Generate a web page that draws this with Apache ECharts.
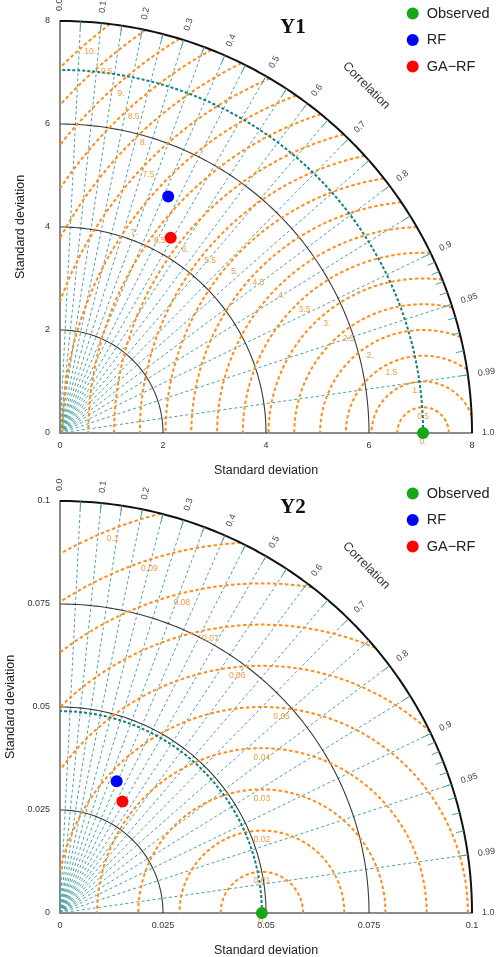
<!DOCTYPE html>
<html><head><meta charset="utf-8">
<script src="https://cdn.jsdelivr.net/npm/echarts@6/dist/echarts.min.js"></script>
<style>html,body{margin:0;padding:0;background:#fff}#c{width:499px;height:957px}</style>
</head><body><div id="c"></div>
<script>
const FONT = 'Liberation Sans, Arial, Helvetica, sans-serif';

const modelNames = ['Observed', 'RF', 'GA\u2212RF'];

const corrLabelValues = [0.0, 0.1, 0.2, 0.3, 0.4, 0.5, 0.6, 0.7, 0.8, 0.9, 0.95, 0.99, 1.0];
const corrLabelTexts = ['0.0', '0.1', '0.2', '0.3', '0.4', '0.5', '0.6', '0.7', '0.8', '0.9', '0.95', '0.99', '1.0'];
const corrRayValues = [0.05, 0.1, 0.15, 0.2, 0.25, 0.3, 0.35, 0.4, 0.45, 0.5, 0.55, 0.6, 0.65, 0.7, 0.75, 0.8, 0.85, 0.9, 0.95, 0.99];
const corrTickValues = [0.05, 0.1, 0.15, 0.2, 0.25, 0.3, 0.35, 0.4, 0.45, 0.5, 0.55, 0.6, 0.65, 0.7, 0.75, 0.8, 0.85, 0.9,
  0.91, 0.92, 0.93, 0.94, 0.95, 0.96, 0.97, 0.98, 0.99];

// Panel Y1
const y1Std = [7.05, 5.05, 4.36];
const y1Corr = [1.0, 0.416, 0.493];
const y1StdTicks = [0, 2, 4, 6, 8];
const y1RmsLevels = [0, 0.5, 1, 1.5, 2, 2.5, 3, 3.5, 4, 4.5, 5, 5.5, 6, 6.5, 7, 7.5, 8, 8.5, 9, 9.5, 10];
const y1RmsLabels = ['0.', '0.5', '1.', '1.5', '2.', '2.5', '3.', '3.5', '4.', '4.5', '5.', '5.5', '6.', '6.5', '7.', '7.5', '8.', '8.5', '9.', '9.5', '10.'];

// Panel Y2
const y2Std = [0.049, 0.0348, 0.0310];
const y2Corr = [1.0, 0.395, 0.489];
const y2StdTicks = [0, 0.025, 0.05, 0.075, 0.1];
const y2RmsLevels = [0, 0.01, 0.02, 0.03, 0.04, 0.05, 0.06, 0.07, 0.08, 0.09, 0.1];
const y2RmsLabels = ['0.', '0.01', '0.02', '0.03', '0.04', '0.05', '0.06', '0.07', '0.08', '0.09', '0.1'];

const modelColors = ['#14a814', '#0000ff', '#ff0000'];
const C_RAY = '#4aa3a3', C_OBSARC = '#137f80', C_RMS = '#ff8d1c', C_RMSTXT = '#f59b3e';

function arc(cx, r, a0, a1) {
  const pts = [];
  const n = Math.max(10, Math.ceil((a1 - a0) * 180 / Math.PI * 1.5));
  for (let i = 0; i <= n; i++) {
    const a = a0 + (a1 - a0) * i / n;
    pts.push([cx + r * Math.cos(a), r * Math.sin(a)]);
  }
  return pts;
}

function lineSeries(gi, pts, color, width, dash, z) {
  return {
    type: 'line', xAxisIndex: gi, yAxisIndex: gi, data: pts, showSymbol: false, symbol: 'none',
    silent: true, clip: false, z: z, animation: false,
    lineStyle: { color: color, width: width, type: dash }
  };
}

function panel(gi, top, stds, corrs, stdTicks, rmsLevels, rmsLabels, title) {
  const R = stdTicks[stdTicks.length - 1];
  const step = stdTicks[1] - stdTicks[0];
  const obs = stds[0];
  const series = [];
  const fmt = v => String(+(+v).toFixed(4));

  corrRayValues.forEach(c => {
    const t = Math.acos(c);
    series.push(lineSeries(gi, [[0, 0], [R * Math.cos(t), R * Math.sin(t)]], C_RAY, 1, [3, 2.5], 2));
  });
  stdTicks.slice(1, -1).forEach(s => {
    series.push(lineSeries(gi, arc(0, s, 0, Math.PI / 2), '#3a3a3a', 1.1, 'solid', 3));
  });
  const labelItems = [];
  rmsLevels.forEach((r, i) => {
    let mid;
    if (r === 0) {
      mid = Math.PI / 2;
    } else {
      const k1 = (R * R - obs * obs - r * r) / (2 * obs * r);
      const p1 = k1 >= 1 ? 0 : (k1 <= -1 ? Math.PI : Math.acos(k1));
      const k2 = -obs / r;
      const p2 = k2 <= -1 ? Math.PI : Math.acos(k2);
      if (p2 <= p1) return;
      series.push(lineSeries(gi, arc(obs, r, p1, p2), C_RMS, 2, [3.5, 2.5], 4));
      mid = (p1 + p2) / 2;
    }
    labelItems.push({
      x: obs + r * Math.cos(mid), y: r * Math.sin(mid),
      dx: -9 * Math.cos(mid), dy: 9 * Math.sin(mid), rot: 0,
      text: rmsLabels[i], color: C_RMSTXT, size: 8.5, align: 'center', weight: 'normal'
    });
  });
  series.push(lineSeries(gi, arc(0, obs, 0, Math.PI / 2), C_OBSARC, 2, [3, 2], 5));
  series.push(lineSeries(gi, arc(0, R, 0, Math.PI / 2), '#111', 2, 'solid', 6));
  corrTickValues.forEach(c => {
    const t = Math.acos(c);
    const r0 = R * (1 - 8 / 412);
    series.push(lineSeries(gi, [[r0 * Math.cos(t), r0 * Math.sin(t)], [R * Math.cos(t), R * Math.sin(t)]], C_RAY, 1, 'solid', 6));
  });
  corrLabelValues.forEach((c, i) => {
    const t = Math.acos(c);
    labelItems.push({
      x: R * Math.cos(t), y: R * Math.sin(t), dx: 10 * Math.cos(t), dy: -10 * Math.sin(t), rot: t,
      text: corrLabelTexts[i], color: '#444', size: 9, align: 'left', weight: 'normal'
    });
  });
  const tc = 48.6 * Math.PI / 180;
  labelItems.push({
    x: R * Math.cos(tc), y: R * Math.sin(tc), dx: 51 * Math.cos(tc), dy: -51 * Math.sin(tc), rot: -Math.PI / 4,
    text: 'Correlation', color: '#333', size: 12.5, align: 'center', weight: 'normal'
  });
  series.push({
    type: 'custom', xAxisIndex: gi, yAxisIndex: gi, silent: true, clip: false, z: 8, animation: false,
    data: labelItems.map(it => [it.x, it.y]),
    renderItem: function (params, api) {
      const it = labelItems[params.dataIndex];
      const p = api.coord([it.x, it.y]);
      return {
        type: 'text', x: p[0] + it.dx, y: p[1] + it.dy, rotation: it.rot,
        style: { text: it.text, fill: it.color, fontSize: it.size, fontFamily: FONT, fontWeight: it.weight,
          align: it.align, verticalAlign: 'middle' }
      };
    }
  });
  modelNames.forEach((name, i) => {
    const x = stds[i] * corrs[i];
    const y = stds[i] * Math.sqrt(Math.max(0, 1 - corrs[i] * corrs[i]));
    series.push({
      type: 'scatter', name: name, xAxisIndex: gi, yAxisIndex: gi, data: [[x, y]], symbolSize: 12,
      itemStyle: { color: modelColors[i], opacity: 1 }, z: 10, clip: false, animation: false
    });
  });

  const axisCommon = {
    type: 'value', gridIndex: gi, min: 0, max: R, interval: step,
    name: 'Standard deviation', nameLocation: 'middle',
    nameTextStyle: { fontSize: 12.5, color: '#222', fontFamily: FONT },
    axisLine: { show: true, onZero: false, lineStyle: { color: '#8a8a8a', width: 2 } },
    axisTick: { show: false }, splitLine: { show: false },
    axisLabel: { fontSize: 9, color: '#333', fontFamily: FONT, formatter: fmt }
  };
  return {
    grid: { left: 60, top: top, width: 412, height: 412, containLabel: false, outerBoundsMode: 'none' },
    xAxis: Object.assign({}, axisCommon, { nameGap: 31, axisLabel: Object.assign({}, axisCommon.axisLabel, { margin: 8 }) }),
    yAxis: Object.assign({}, axisCommon, { nameGap: 33, axisLabel: Object.assign({}, axisCommon.axisLabel, { margin: 10 }) }),
    series: series,
    title: {
      text: title, left: 275, top: top - 9, padding: 5,
      textStyle: { fontFamily: 'Liberation Serif, Times New Roman, serif', fontWeight: 'bold', fontSize: 21, color: '#111' }
    },
    legend: {
      data: modelNames, orient: 'vertical', left: 401.7, top: top - 20, itemWidth: 12, itemHeight: 12, itemGap: 11.5,
      icon: 'circle', selectedMode: false,
      textStyle: { fontSize: 14.5, color: '#222', fontFamily: FONT, lineHeight: 12, padding: [0, 0, 0, 3] }
    }
  };
}

const p1 = panel(0, 21, y1Std, y1Corr, y1StdTicks, y1RmsLevels, y1RmsLabels, 'Y1');
const p2 = panel(1, 501, y2Std, y2Corr, y2StdTicks, y2RmsLevels, y2RmsLabels, 'Y2');

const chart = echarts.init(document.getElementById('c'), null, { renderer: 'canvas' });
chart.setOption({
  animation: false,
  backgroundColor: '#fff',
  textStyle: { fontFamily: FONT },
  title: [p1.title, p2.title],
  legend: [p1.legend, p2.legend],
  grid: [p1.grid, p2.grid],
  xAxis: [p1.xAxis, p2.xAxis],
  yAxis: [p1.yAxis, p2.yAxis],
  series: p1.series.concat(p2.series)
});
</script></body></html>
